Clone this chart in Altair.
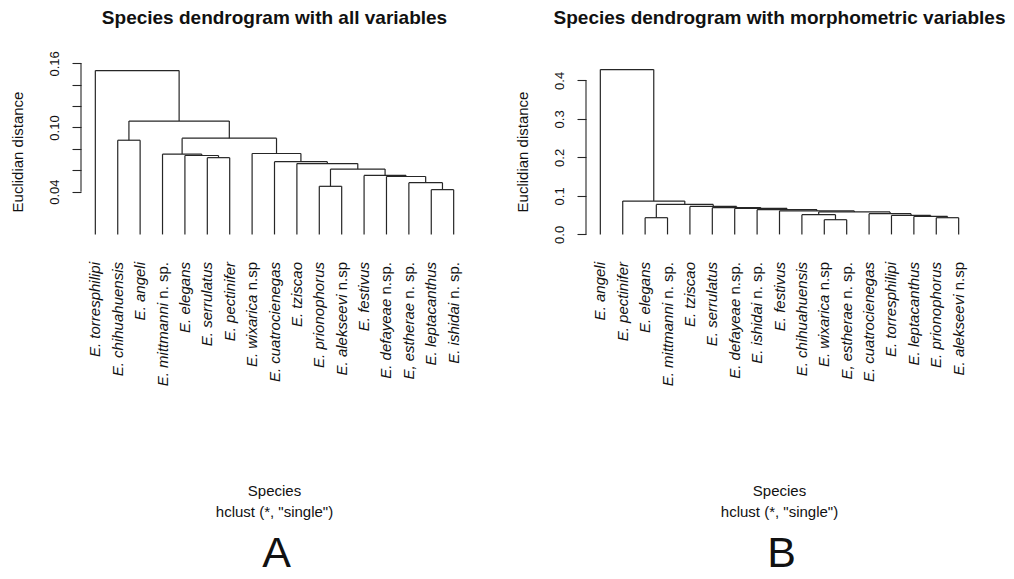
import altair as alt
import pandas as pd

# ---------------- data ----------------
labels_a = ["E. torresphilipi", "E. chihuahuensis", "E. angeli", "E. mittmanni n. sp.",
            "E. elegans", "E. serrulatus", "E. pectinifer", "E. wixarica n.sp",
            "E. cuatrocienegas", "E. tziscao", "E. prionophorus", "E. alekseevi n.sp",
            "E. festivus", "E. defayeae n.sp.", "E, estherae n. sp.", "E. leptacanthus",
            "E. ishidai n. sp."]
merge_left_a = [-16, -15, -14, -11, -13, 4, -10, -9, -6, -5, -4, -8, -2, 11, 13, -1]
merge_right_a = [-17, 1, 2, -12, 3, 5, 6, 7, -7, 9, 10, 8, -3, 12, 14, 15]
heights_a = [0.0419, 0.0484, 0.0542, 0.0450, 0.0552, 0.0611, 0.0663, 0.0680,
             0.0718, 0.0738, 0.0751, 0.0757, 0.0881, 0.0900, 0.1060, 0.1532]
ticks_a = [0.04, 0.06, 0.08, 0.10, 0.12, 0.14, 0.16]
shown_ticks_a = ["0.04", "0.10", "0.16"]

labels_b = ["E. angeli", "E. pectinifer", "E. elegans", "E. mittmanni n. sp.",
            "E. tziscao", "E. serrulatus", "E. defayeae n.sp.", "E. ishidai n. sp.",
            "E. festivus", "E. chihuahuensis", "E. wixarica n.sp", "E, estherae n. sp.",
            "E. cuatrocienegas", "E. torresphilipi", "E. leptacanthus", "E. prionophorus",
            "E. alekseevi n.sp"]
merge_left_b = [-16, -15, -14, -13, -11, -10, 6, -9, -8, -7, -6, -5, -3, 13, -2, -1]
merge_right_b = [-17, 1, 2, 3, -12, 5, 4, 7, 8, 9, 10, 11, -4, 12, 14, 15]
heights_b = [0.0434, 0.0468, 0.0494, 0.0538, 0.0382, 0.0512, 0.0584, 0.0610,
             0.0642, 0.0675, 0.0693, 0.0727, 0.0434, 0.0779, 0.0865, 0.4280]
ticks_b = [0.0, 0.1, 0.2, 0.3, 0.4]
shown_ticks_b = ["0.0", "0.1", "0.2", "0.3", "0.4"]

roman_suffixes = [" n. sp.", " n.sp.", " n.sp"]

# ---------------- helpers ----------------
W, H = 387, 178
XMIN, XMAX = 0.36, 17.64
FONT = "Liberation Sans"
LEAF_FS = 15
LABEL_TOP = 199
# Arial / Liberation Sans regular advance widths (1/1000 em)
ADV = {" ": 278, "n": 556, ".": 278, "s": 500, "p": 556}


def tree_segments(left, right, heights):
    centre = {}
    rows = []

    def node(i):
        if i < 0:
            return float(-i), 0.0
        return centre[i], heights[i - 1]

    for k, (l, r, h) in enumerate(zip(left, right, heights), start=1):
        xl, hl = node(l)
        xr, hr = node(r)
        rows.append(dict(x=xl, x2=xr, y=h, y2=h))
        rows.append(dict(x=xl, x2=xl, y=hl, y2=h))
        rows.append(dict(x=xr, x2=xr, y=hr, y2=h))
        centre[k] = (xl + xr) / 2
    return pd.DataFrame(rows)


def label_frame(labels):
    rows = []
    for i, lab in enumerate(labels, start=1):
        it, ro = lab, ""
        for suf in roman_suffixes:
            if lab.endswith(suf):
                it, ro = lab[: -len(suf)], suf
                break
        w = sum(ADV.get(c, 500) for c in ro) / 1000 * LEAF_FS
        rows.append(dict(x=float(i), it=it, ro=ro, yr=LABEL_TOP, yi=LABEL_TOP + w))
    return pd.DataFrame(rows)


def panel(title, labels, left, right, heights, ticks, shown, fmt, letter):
    hmax = max(heights)
    # R-style 4 % padding, widened just enough to keep the top tick inside
    ydom = [-0.04 * hmax, max(1.04 * hmax, ticks[-1] + 0.0003)]
    xs = alt.Scale(domain=[XMIN, XMAX], nice=False, zero=False)
    ys = alt.Scale(domain=ydom, nice=False, zero=False)
    label_expr = ("indexof([" + ",".join("'%s'" % s for s in shown) + "], format(datum.value,'" + fmt +
                  "')) >= 0 ? format(datum.value,'" + fmt + "') : ''")

    tree = alt.Chart(tree_segments(left, right, heights)).mark_rule(
        color="#262626", strokeWidth=1.2
    ).encode(
        x=alt.X("x:Q", scale=xs, axis=None),
        x2="x2:Q",
        y=alt.Y("y:Q", scale=ys, axis=alt.Axis(
            values=ticks, labelExpr=label_expr, domain=False, grid=False,
            tickSize=9, tickColor="#262626", tickWidth=1.1,
            labelAngle=270, labelAlign="center", labelBaseline="middle",
            labelPadding=18, labelFont=FONT, labelFontSize=13, labelColor="#111111",
            labelOverlap=False, labelFlush=False, title=None)),
        y2="y2:Q",
    )
    axis_line = alt.Chart(pd.DataFrame({"x": [XMIN], "a": [ticks[0]], "b": [ticks[-1]]})).mark_rule(
        color="#262626", strokeWidth=1.1
    ).encode(x=alt.X("x:Q", scale=xs, axis=None), y=alt.Y("a:Q", scale=ys, axis=None), y2="b:Q")

    lf = label_frame(labels)
    lab_it = alt.Chart(lf).mark_text(
        angle=270, align="right", baseline="middle", font=FONT, fontStyle="italic",
        fontSize=LEAF_FS, color="#111111"
    ).encode(x=alt.X("x:Q", scale=xs, axis=None), y=alt.Y("yi:Q", scale=None, axis=None), text="it:N")
    lab_ro = alt.Chart(lf).mark_text(
        angle=270, align="right", baseline="middle", font=FONT,
        fontSize=LEAF_FS, color="#111111"
    ).encode(x=alt.X("x:Q", scale=xs, axis=None), y=alt.Y("yr:Q", scale=None, axis=None), text="ro:N")

    def free_text(txt, x, y, size, angle=0, weight="normal"):
        return alt.Chart(pd.DataFrame({"t": [txt]})).mark_text(
            font=FONT, fontSize=size, angle=angle, align="center", baseline="middle",
            fontWeight=weight, color="#111111"
        ).encode(x=alt.value(x), y=alt.value(y), text="t:N")

    ttl = free_text(title, W / 2, -45, 19, 0, "bold")
    ytitle = free_text("Euclidian distance", -63.5, H / 2, 15, 270)
    xt1 = free_text("Species", W / 2, 428, 15)
    xt2 = free_text('hclust (*, "single")', W / 2, 449, 15)
    let = free_text(letter, W / 2 + 2, 491, 43)

    return alt.layer(tree, axis_line, lab_it, lab_ro, ttl, ytitle, xt1, xt2, let).resolve_axis(
        y="independent"
    ).properties(width=W, height=H)


pa = panel("Species dendrogram with all variables", labels_a, merge_left_a, merge_right_a,
           heights_a, ticks_a, shown_ticks_a, ".2f", "A")
pb = panel("Species dendrogram with morphometric variables", labels_b, merge_left_b,
           merge_right_b, heights_b, ticks_b, shown_ticks_b, ".1f", "B")

chart = alt.hconcat(pa, pb, spacing=118, bounds="flush").configure_view(
    stroke="transparent"
).properties(padding={"left": 2, "top": 0, "right": 0, "bottom": 0}, background="white")

chart.save("out.html", embed_options={"renderer": "svg", "actions": False})
